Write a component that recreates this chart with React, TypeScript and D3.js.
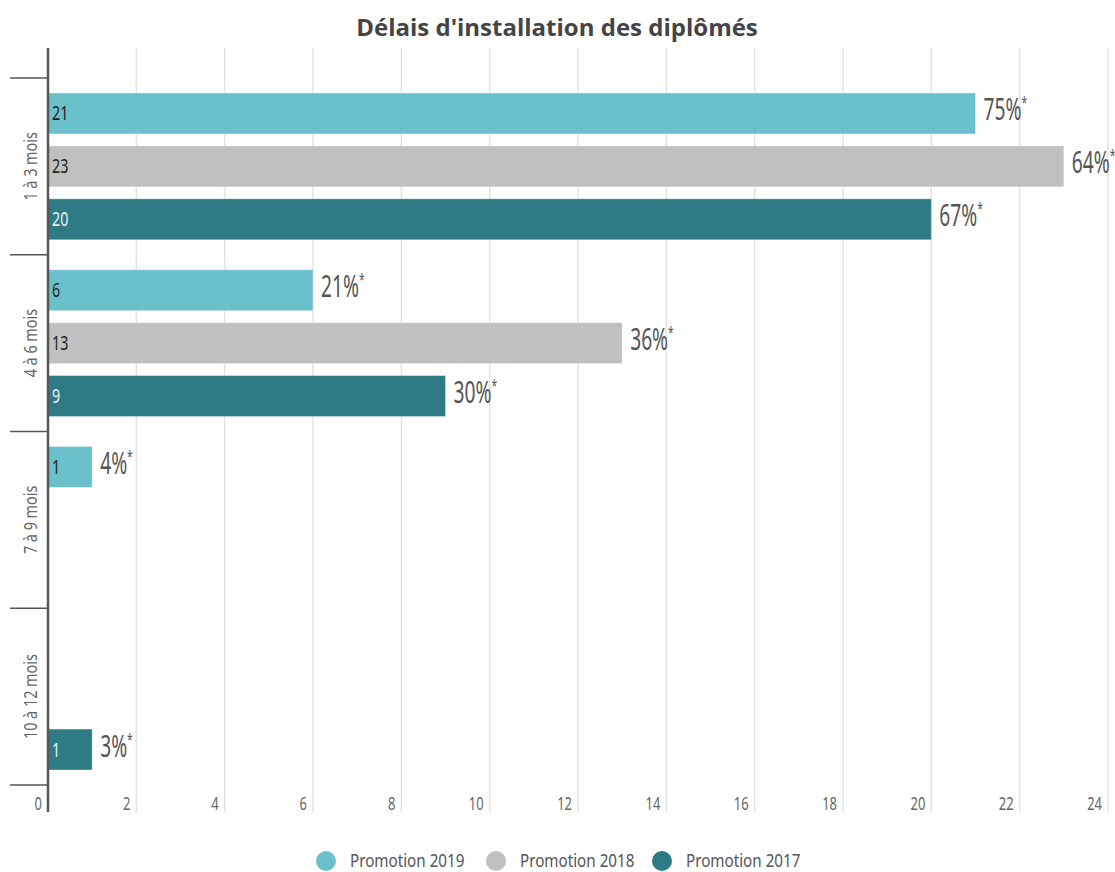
import React from 'react';
import { scaleLinear, scaleBand, range } from 'd3';

const categories = ['1 à 3 mois', '4 à 6 mois', '7 à 9 mois', '10 à 12 mois'];
const seriesNames = ['Promotion 2019', 'Promotion 2018', 'Promotion 2017'];
const seriesColors = ['#6bc1cb', '#c0c0c0', '#2e7b86'];
const labelColors = ['#222', '#222', '#e8f4f5'];

const promo2019 = [21, 6, 1, null];
const promo2018 = [23, 13, null, null];
const promo2017 = [20, 9, null, 1];
const pct2019 = ['75%', '21%', '4%', null];
const pct2018 = ['64%', '36%', null, null];
const pct2017 = ['67%', '30%', null, '3%'];

const xTicks = range(0, 25, 2);

const W = 1115;
const H = 872;
const left = 48;
const right = 1108;
const top = 78;
const bottom = 785;
const font = '"Noto Sans", sans-serif';

// narrow text: the original uses a condensed face, so squeeze a regular one
const Narrow: React.FC<{
  x: number;
  y: number;
  sx?: number;
  rotate?: number;
  anchor?: string;
  size: number;
  fill: string;
  children: React.ReactNode;
}> = ({ x, y, sx = 0.75, rotate = 0, anchor = 'start', size, fill, children }) => (
  <g transform={`translate(${x},${y}) rotate(${rotate}) scale(${sx},1)`}>
    <text textAnchor={anchor} fontFamily={font} fontSize={size} fill={fill}>
      {children}
    </text>
  </g>
);

const App: React.FC = () => {
  const x = scaleLinear().domain([0, 24]).range([left, right]);
  const y = scaleBand<string>().domain(categories).range([top, bottom]);
  const inner = scaleBand<number>()
    .domain([0, 1, 2])
    .range([0, y.bandwidth()])
    .paddingInner(0.226)
    .paddingOuter(0.283);

  const values = [promo2019, promo2018, promo2017];
  const pcts = [pct2019, pct2018, pct2017];

  return (
    <svg width={W} height={H} style={{ display: 'block', position: 'absolute', left: 0, top: 0 }}>
      <rect width={W} height={H} fill="#fff" />
      <text
        x={557}
        y={36}
        textAnchor="middle"
        fontFamily='"Open Sans", sans-serif'
        fontWeight="bold"
        fontSize={24}
        fill="#444"
      >
        Délais d'installation des diplômés
      </text>

      {xTicks.map((t) => (
        <g key={t}>
          {t > 0 && (
            <line x1={x(t)} x2={x(t)} y1={48} y2={812} stroke="#e3e3e3" strokeWidth={1.5} />
          )}
          <Narrow x={x(t) - 6} y={810} anchor="end" size={18} sx={0.72} fill="#666">
            {t}
          </Narrow>
        </g>
      ))}

      {categories.map((c) => (
        <line key={c} x1={10} x2={left} y1={y(c)} y2={y(c)} stroke="#555" strokeWidth={1.5} />
      ))}
      <line x1={10} x2={left} y1={bottom} y2={bottom} stroke="#555" strokeWidth={1.5} />

      {categories.map((c) => (
        <Narrow
          key={c}
          x={37}
          y={(y(c) ?? 0) + y.bandwidth() / 2}
          rotate={-90}
          anchor="middle"
          size={18}
          sx={0.8}
          fill="#666"
        >
          {c}
        </Narrow>
      ))}

      {values.map((series, si) =>
        series.map((v, ci) => {
          if (v == null) return null;
          const by = (y(categories[ci]) ?? 0) + (inner(si) ?? 0);
          const bh = inner.bandwidth();
          const pct = pcts[si][ci];
          return (
            <g key={`${si}-${ci}`}>
              <rect
                x={x(0)}
                y={by}
                width={x(v) - x(0)}
                height={bh}
                fill={seriesColors[si]}
                stroke="#ffffff"
                strokeOpacity={0.35}
                strokeWidth={1}
              />
              <Narrow x={x(0) + 4} y={by + bh / 2 + 7} size={19} sx={0.75} fill={labelColors[si]}>
                {v}
              </Narrow>
              {pct && (
                <Narrow x={x(v) + 8} y={by + bh / 2 + 7} size={30} sx={0.64} fill="#555">
                  {pct}
                  <tspan fontSize={16} dy={-12}>
                    *
                  </tspan>
                </Narrow>
              )}
            </g>
          );
        })
      )}

      <line x1={left} x2={left} y1={48} y2={812} stroke="#555" strokeWidth={2.5} />

      {seriesNames.map((n, i) => {
        const lx = [326, 496, 662][i];
        return (
          <g key={n}>
            <circle cx={lx} cy={861} r={10} fill={seriesColors[i]} />
            <Narrow x={lx + 24} y={867} size={19} sx={0.8} fill="#555">
              {n}
            </Narrow>
          </g>
        );
      })}
    </svg>
  );
};

export default App;
